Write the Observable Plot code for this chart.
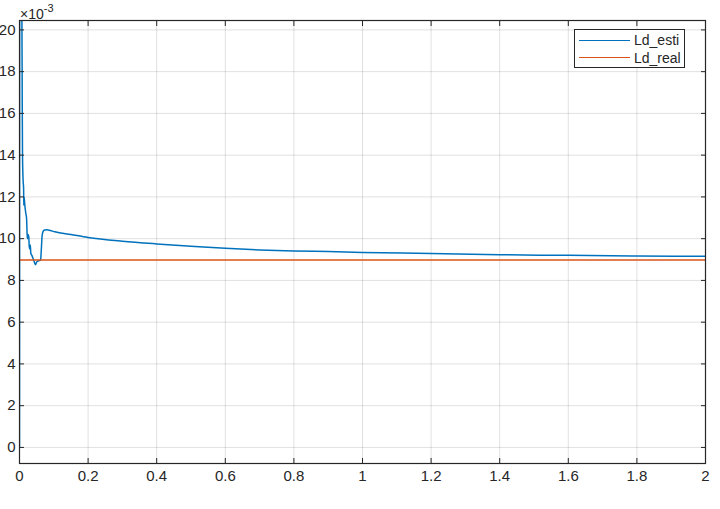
<!DOCTYPE html>
<html>
<head>
<meta charset="utf-8">
<script src="https://cdn.jsdelivr.net/npm/d3@7"></script>
<script src="https://cdn.jsdelivr.net/npm/@observablehq/plot@0.6"></script>
<style>
  html, body { margin: 0; padding: 0; background: #fff; }
  #wrap { position: relative; width: 720px; height: 509px; font-family: "Liberation Sans", Arial, sans-serif; }
  #exp { position: absolute; left: 20px; top: 1px; font-size: 14px; line-height: 16px; color: #262626; }
  #exp sup { font-size: 11px; position: relative; top: -1px; }
  #legend { position: absolute; left: 574px; top: 29px; width: 111px; height: 39px; border: 1px solid #262626; background: #fff; box-sizing: border-box; font-size: 14px; color: #262626; }
  .row { position: absolute; left: 4px; display: flex; align-items: center; height: 18px; }
  .sw { width: 51px; height: 0; border-top: 1.5px solid; margin-right: 4px; }
  svg text { font-size: 15px; }
</style>
</head>
<body>
<div id="wrap">
  <div id="chart"></div>
  <div id="exp">×10<sup>-3</sup></div>
  <div id="legend"></div>
</div>
<script>
// Values are in units of 1e-3 (axis multiplier ×10^-3)
const seriesNames = ["Ld_esti", "Ld_real"];
const colors = ["#0072BD", "#D95319"];
const tEsti = [0, 0.0006, 0.007, 0.008, 0.0088, 0.0105, 0.012, 0.0125, 0.0135, 0.0155, 0.0185, 0.0205, 0.022, 0.023, 0.025, 0.027, 0.0285, 0.030, 0.0315, 0.033, 0.036, 0.040, 0.044, 0.0466, 0.050, 0.054, 0.058, 0.0615, 0.063, 0.064, 0.066, 0.069, 0.073, 0.080, 0.090, 0.103, 0.15, 0.2, 0.3, 0.4, 0.5, 0.6, 0.7, 0.8, 0.9, 1.0, 1.2, 1.4, 1.6, 1.8, 2.0];
const ldEsti = [0, 24, 20.6, 16.5, 14.0, 12.8, 12.4, 11.6, 12.0, 11.6, 11.2, 11.0, 10.3, 10.0, 10.2, 10.1, 9.6, 9.5, 9.7, 9.3, 9.2, 9.03, 8.85, 8.75, 8.88, 8.93, 8.95, 8.98, 9.3, 9.6, 10.15, 10.35, 10.42, 10.43, 10.39, 10.33, 10.2, 10.06, 9.88, 9.75, 9.64, 9.54, 9.46, 9.41, 9.38, 9.34, 9.29, 9.23, 9.20, 9.17, 9.16];
const tReal = [0, 2];
const ldReal = [8.98, 8.98];
const xTicks = [0, 0.2, 0.4, 0.6, 0.8, 1, 1.2, 1.4, 1.6, 1.8, 2];
const yTicks = [0, 2, 4, 6, 8, 10, 12, 14, 16, 18, 20];
const xDomain = [0, 2];
const yDomain = [-0.77, 20.45];

const esti = tEsti.map((t, i) => ({t, v: ldEsti[i]}));
const real = tReal.map((t, i) => ({t, v: ldReal[i]}));

const ink = "#262626";
const fmtX = d => String(d);
const chart = Plot.plot({
  width: 720,
  height: 509,
  marginTop: 20,
  marginBottom: 46,
  marginLeft: 19,
  marginRight: 15,
  style: {fontFamily: "Liberation Sans, Arial, sans-serif", fontSize: "15px", color: ink, background: "#fff"},
  x: {domain: xDomain},
  y: {domain: yDomain},
  marks: [
    Plot.gridX(xTicks, {stroke: "#000", strokeOpacity: 0.12}),
    Plot.gridY(yTicks, {stroke: "#000", strokeOpacity: 0.12}),
    Plot.line(esti, {x: "t", y: "v", stroke: colors[0], strokeWidth: 1.5, curve: "monotone-x", clip: true}),
    Plot.line(real, {x: "t", y: "v", stroke: colors[1], strokeWidth: 1.5, clip: true}),
    Plot.frame({stroke: ink, strokeWidth: 1.2}),
    Plot.axisX(xTicks, {anchor: "bottom", tickSize: -5, tickPadding: 12, tickFormat: fmtX, stroke: ink, fill: ink, label: null}),
    Plot.axisX(xTicks, {anchor: "top", tickSize: -5, tickFormat: () => "", stroke: ink, label: null}),
    Plot.axisY(yTicks, {anchor: "left", tickSize: -5, tickPadding: 9, stroke: ink, fill: ink, label: null}),
    Plot.axisY(yTicks, {anchor: "right", tickSize: -5, tickFormat: () => "", stroke: ink, label: null})
  ]
});
document.getElementById("chart").appendChild(chart);

const legend = document.getElementById("legend");
seriesNames.forEach((name, i) => {
  const row = document.createElement("div");
  row.className = "row";
  row.style.top = (1 + i * 17.5) + "px";
  const sw = document.createElement("div");
  sw.className = "sw";
  sw.style.borderTopColor = colors[i];
  const label = document.createElement("span");
  label.textContent = name;
  row.appendChild(sw);
  row.appendChild(label);
  legend.appendChild(row);
});
</script>
</body>
</html>
